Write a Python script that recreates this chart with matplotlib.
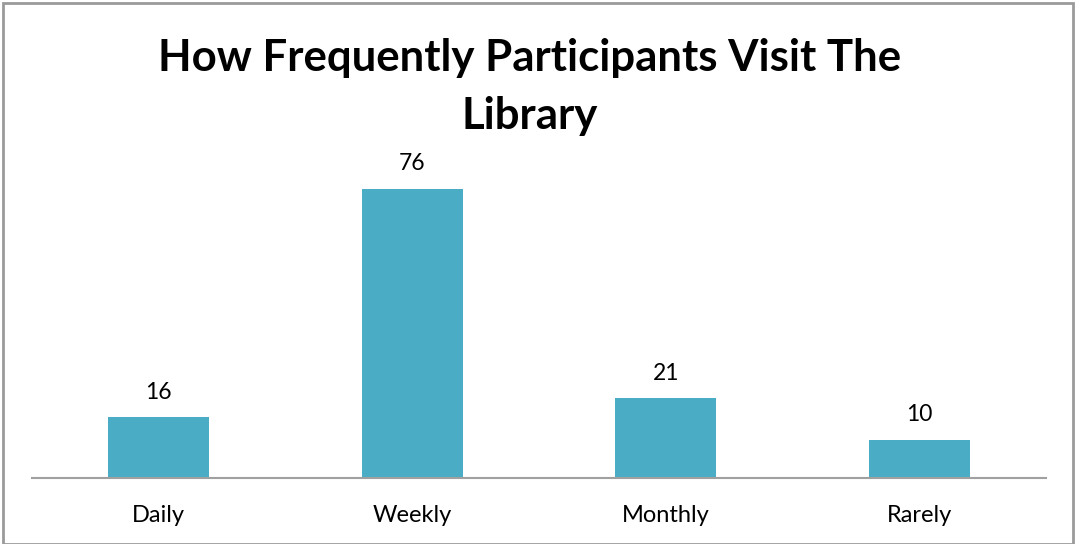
import matplotlib
matplotlib.use("Agg")
import matplotlib.pyplot as plt
from matplotlib.patches import Rectangle

categories = ["Daily", "Weekly", "Monthly", "Rarely"]
values = [16, 76, 21, 10]
title = "How Frequently Participants Visit The\nLibrary"

W, H = 1075, 544
fig = plt.figure(figsize=(W / 100, H / 100), dpi=100)
fig.patch.set_facecolor("white")

ax = fig.add_axes([32 / W, (H - 478) / H, (1046 - 32) / W, (478 - 151) / H])
x = list(range(len(categories)))
bars = ax.bar(x, values, width=0.4, color="#4BACC6", zorder=2)
ax.set_xlim(-0.5, len(categories) - 0.5)
ax.set_ylim(0, 86)
ax.set_yticks([])
ax.set_xticks(x)
ax.set_xticklabels(categories, fontsize=17, family="Lato")
ax.tick_params(axis="x", length=0, pad=19.5, colors="black")
for s in ["top", "right", "left"]:
    ax.spines[s].set_visible(False)
ax.spines["bottom"].set_color("#A0A0A0")
ax.spines["bottom"].set_linewidth(1.5)
ax.patch.set_visible(False)

for xi, v in zip(x, values):
    ax.annotate(str(v), (xi, v), xytext=(0, 10.5), textcoords="offset points",
                ha="center", va="bottom", fontsize=16.5, family="Lato")

fig.text(530 / W, 1 - 87 / H, title, ha="center", va="center",
         fontsize=31.5, fontweight="bold", family="Lato", linespacing=1.55)

fig.patches.append(Rectangle((3 / W, 0), (1073 - 3) / W, (H - 3) / H,
                             transform=fig.transFigure, fill=False,
                             edgecolor="#9A9A9A", linewidth=2))

fig.savefig("out.png", dpi=100)
